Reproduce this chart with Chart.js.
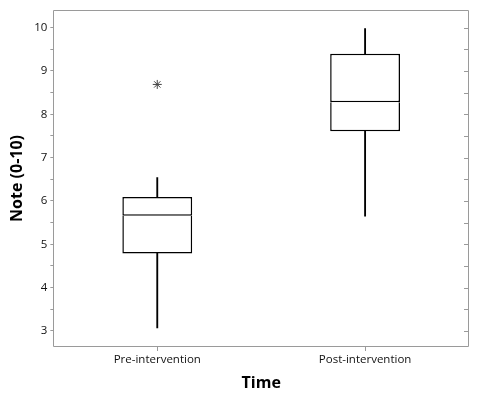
<!DOCTYPE html>
<html>
<head>
<meta charset="utf-8">
<script src="https://cdn.jsdelivr.net/npm/chart.js@4.4.1/dist/chart.umd.min.js"></script>
<style>
html,body{margin:0;padding:0;background:#fff;}
#wrap{width:478px;height:393px;}
</style>
</head>
<body>
<div id="wrap"><canvas id="c" width="478" height="393"></canvas></div>
<script>
const categories = ['Pre-intervention', 'Post-intervention'];
const whiskerLow = [3.07, 5.65];
const q1 = [4.79, 7.61];
const median = [5.66, 8.28];
const q3 = [6.09, 9.40];
const whiskerHigh = [6.54, 9.98];
const outliers = [8.69, null];
const yMin = 2.63, yMax = 10.41;

const pairs = (a, b) => a.map((v, i) => [v, b[i]]);

const frame = {
  id: 'frame',
  afterDraw(chart) {
    const {ctx, chartArea: a, scales} = chart;
    ctx.save();
    ctx.strokeStyle = '#9a9a9a';
    ctx.lineWidth = 1;
    ctx.beginPath();
    ctx.rect(Math.round(a.left) + 0.5, Math.round(a.top) + 0.5, Math.round(a.right - a.left) - 1, Math.round(a.bottom - a.top) - 1);
    ctx.stroke();
    ctx.beginPath();
    scales.y.ticks.forEach(t => {
      const y = Math.round(scales.y.getPixelForValue(t.value)) + 0.5;
      ctx.moveTo(Math.round(a.right) - 1, y);
      ctx.lineTo(Math.round(a.right) - 5, y);
    });
    ctx.stroke();
    ctx.restore();
  }
};

const barCommon = {
  type: 'bar',
  grouped: false,
  categoryPercentage: 1,
  borderSkipped: false,
};

new Chart(document.getElementById('c'), {
  data: {
    labels: categories,
    datasets: [
      Object.assign({}, barCommon, {
        label: 'whisker low', data: pairs(whiskerLow, q1),
        barThickness: 1.2, backgroundColor: '#000', borderWidth: 0, order: 3
      }),
      Object.assign({}, barCommon, {
        label: 'whisker high', data: pairs(q3, whiskerHigh),
        barThickness: 1.2, backgroundColor: '#000', borderWidth: 0, order: 3
      }),
      Object.assign({}, barCommon, {
        label: 'lower box', data: pairs(q1, median),
        barPercentage: 0.336, backgroundColor: '#fff', borderColor: '#000',
        borderWidth: {top: 0, left: 1.5, right: 1.5, bottom: 1.5}, order: 2
      }),
      Object.assign({}, barCommon, {
        label: 'upper box', data: pairs(median, q3),
        barPercentage: 0.336, backgroundColor: '#fff', borderColor: '#000', borderWidth: 1.5, order: 2
      }),
      {
        type: 'line', label: 'outliers', data: outliers, showLine: false,
        pointStyle: 'star', pointRadius: 4.5, borderColor: '#444', backgroundColor: '#444',
        pointBorderWidth: 1, order: 1
      }
    ]
  },
  options: {
    responsive: false,
    animation: false,
    layout: {padding: {top: 6, right: 9, left: 8, bottom: 0}},
    plugins: {legend: {display: false}, tooltip: {enabled: false}},
    scales: {
      x: {
        type: 'category',
        offset: true,
        grid: {display: true, drawOnChartArea: false, tickLength: 4, color: '#9a9a9a', offset: false},
        border: {display: false},
        ticks: {color: '#111', font: {family: 'Open Sans', size: 11.5}, padding: 2, maxRotation: 0},
        title: {display: true, text: 'Time', color: '#000', font: {family: 'Open Sans', size: 16, weight: 'bold'}, padding: {top: 5, bottom: 0}}
      },
      y: {
        type: 'linear',
        min: yMin, max: yMax,
        grid: {display: true, drawOnChartArea: false, tickLength: 3, color: '#9a9a9a'},
        border: {display: false},
        ticks: {
          stepSize: 0.5, includeBounds: false, autoSkip: false,
          color: '#111', font: {family: 'Open Sans', size: 11.5}, padding: 3,
          callback: v => Number.isInteger(v) ? String(v) : ''
        },
        title: {display: true, text: 'Note (0-10)', color: '#000', font: {family: 'Open Sans', size: 16, weight: 'bold'}, padding: {top: 0, bottom: 4}}
      }
    }
  },
  plugins: [frame]
});
</script>
</body>
</html>
